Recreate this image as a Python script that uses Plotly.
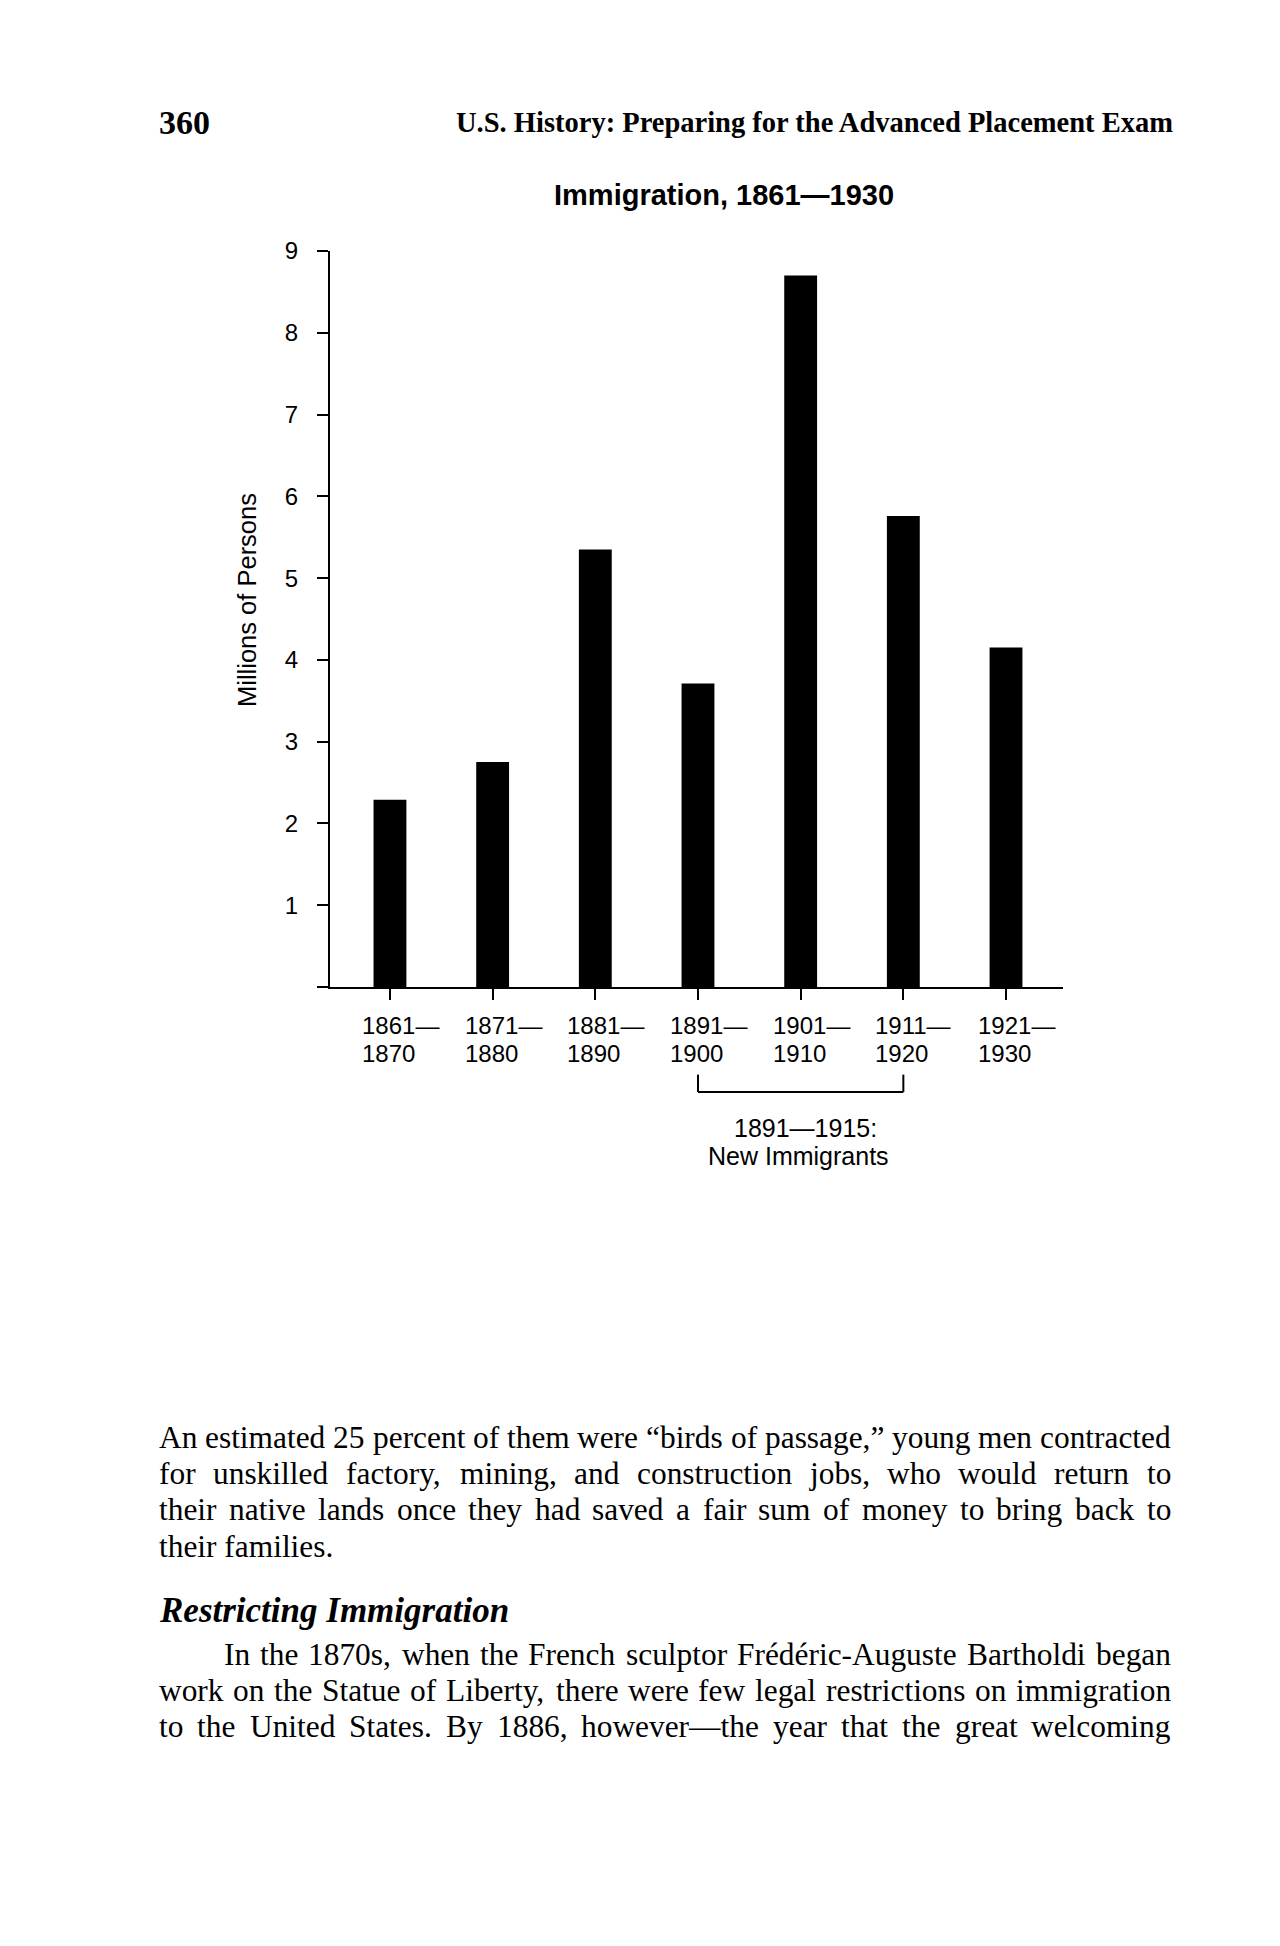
import plotly.graph_objects as go

# ---- data ----
periods = ["1861-1870", "1871-1880", "1881-1890", "1891-1900", "1901-1910", "1911-1920", "1921-1930"]
immigrants_millions = [2.29, 2.75, 5.35, 3.71, 8.70, 5.76, 4.15]
label_line1 = ["1861\u2014", "1871\u2014", "1881\u2014", "1891\u2014", "1901\u2014", "1911\u2014", "1921\u2014"]
label_line2 = ["1870", "1880", "1890", "1900", "1910", "1920", "1930"]
y_tickvals = [0, 1, 2, 3, 4, 5, 6, 7, 8, 9]
y_ticktext = ["", "1", "2", "3", "4", "5", "6", "7", "8", "9"]
bracket_from, bracket_to = "1891-1900", "1911-1920"
bracket_text = ["1891\u20141915:", "New Immigrants"]

page_number = "360"
running_head = "U.S. History: Preparing for the Advanced Placement Exam"
chart_title = "Immigration, 1861\u20141930"
y_title = "Millions of Persons"
para1 = [
    "An estimated 25 percent of them were \u201cbirds of passage,\u201d young men contracted",
    "for unskilled factory, mining, and construction jobs, who would return to",
    "their native lands once they had saved a fair sum of money to bring back to",
    "their families.",
]
heading = "Restricting Immigration"
para2 = [
    "In the 1870s, when the French sculptor Fr\u00e9d\u00e9ric-Auguste Bartholdi began",
    "work on the Statue of Liberty, there were few legal restrictions on immigration",
    "to the United States. By 1886, however\u2014the year that the great welcoming",
]

# ---- layout geometry (pixels) ----
W, H = 1280, 1946
L, R, T, B = 330, 1063, 250.7, 987.3


def pxx(p):
    return (p - L) / (R - L)


def pyy(p):
    return (B - p) / (B - T)


SANS = "Liberation Sans"
SERIF = "Liberation Serif"

# Times metrics (1/1000 em) used only to justify body text lines
_TW = {" ": 250, ",": 250, ".": 250, "-": 333, ":": 278, "\u201c": 444, "\u201d": 444,
       "\u2014": 1000, "\u00e9": 444}
for ch in "0123456789":
    _TW[ch] = 500
_TW.update(dict(zip("ABCDEFGHIJKLMNOPQRSTUVWXYZ",
                    [722, 667, 667, 722, 611, 556, 722, 722, 333, 389, 722, 611, 889,
                     722, 722, 556, 722, 667, 556, 611, 722, 722, 944, 722, 722, 611])))
_TW.update(dict(zip("abcdefghijklmnopqrstuvwxyz",
                    [444, 500, 444, 500, 444, 333, 500, 500, 278, 278, 500, 278, 778,
                     500, 500, 500, 500, 333, 389, 278, 500, 500, 722, 500, 500, 444])))


def tw(s, size):
    return sum(_TW.get(c, 500) for c in s) * size / 1000.0


BODY = 31.4
TEXT_L, TEXT_R = 159, 1171

fig = go.Figure()
fig.add_trace(go.Bar(
    x=periods, y=immigrants_millions, width=0.32,
    marker=dict(color="black", line=dict(width=0)),
    hoverinfo="x+y",
))

ann = []
# x labels (two lines, years centred on tick, dash hanging)
for cat, l1, l2 in zip(periods, label_line1, label_line2):
    ann.append(dict(x=cat, xref="x", y=pyy(1026), yref="paper", text=l1, showarrow=False,
                    xanchor="left", yanchor="middle", xshift=-30,
                    font=dict(family=SANS, size=24, color="black")))
    ann.append(dict(x=cat, xref="x", y=pyy(1054), yref="paper", text=l2, showarrow=False,
                    xanchor="left", yanchor="middle", xshift=-30,
                    font=dict(family=SANS, size=24, color="black")))
# bracket text
ann.append(dict(x=pxx(805), xref="paper", y=pyy(1128), yref="paper", text=bracket_text[0], showarrow=False,
                xanchor="center", yanchor="middle", font=dict(family=SANS, size=25, color="black")))
ann.append(dict(x=pxx(798), xref="paper", y=pyy(1156), yref="paper", text=bracket_text[1], showarrow=False,
                xanchor="center", yanchor="middle", font=dict(family=SANS, size=25, color="black")))
# y title
ann.append(dict(x=pxx(247), xref="paper", y=pyy(600), yref="paper", text=y_title, showarrow=False,
                textangle=-90, xanchor="center", yanchor="middle",
                font=dict(family=SANS, size=25.5, color="black")))
# chart title
ann.append(dict(x=pxx(724), xref="paper", y=pyy(195), yref="paper", text="<b>" + chart_title + "</b>",
                showarrow=False, xanchor="center", yanchor="middle",
                font=dict(family=SANS, size=29, color="black")))
# running head
ann.append(dict(x=pxx(157), xref="paper", y=pyy(122), yref="paper", text="<b>" + page_number + "</b>",
                showarrow=False, xanchor="left", yanchor="middle",
                font=dict(family=SERIF, size=34, color="black")))
ann.append(dict(x=pxx(1175), xref="paper", y=pyy(122), yref="paper", text="<b>" + running_head + "</b>",
                showarrow=False, xanchor="right", yanchor="middle",
                font=dict(family=SERIF, size=28.5, color="black")))


def add_line(line, x_left, y_pix, justify):
    font = dict(family=SERIF, size=BODY, color="black")
    if not justify:
        ann.append(dict(x=pxx(x_left - 2), xref="paper", y=pyy(y_pix), yref="paper", text=line,
                        showarrow=False, xanchor="left", yanchor="middle", font=font))
        return
    words = line.split(" ")
    widths = [tw(w, BODY) for w in words]
    gap = (TEXT_R - x_left - sum(widths)) / (len(words) - 1)
    x = x_left
    for w, wd in zip(words, widths):
        ann.append(dict(x=pxx(x - 2), xref="paper", y=pyy(y_pix), yref="paper", text=w,
                        showarrow=False, xanchor="left", yanchor="middle", font=font))
        x += wd + gap


# body text
for i, line in enumerate(para1):
    add_line(line, TEXT_L, 1437.7 + i * 36.5, justify=(i < len(para1) - 1))
ann.append(dict(x=pxx(157), xref="paper", y=pyy(1611.5), yref="paper", text="<b><i>" + heading + "</i></b>",
                showarrow=False, xanchor="left", yanchor="middle",
                font=dict(family=SERIF, size=35, color="black")))
for i, line in enumerate(para2):
    x0 = 223.5 if i == 0 else TEXT_L
    add_line(line, x0, 1655 + i * 36, justify=True)

shapes = [
    dict(type="line", xref="x", yref="paper", x0=bracket_from, x1=bracket_from, y0=pyy(1075), y1=pyy(1092.3),
         line=dict(color="black", width=2)),
    dict(type="line", xref="x", yref="paper", x0=bracket_to, x1=bracket_to, y0=pyy(1075), y1=pyy(1092.3),
         line=dict(color="black", width=2)),
    dict(type="line", xref="x", yref="paper", x0=bracket_from, x1=bracket_to, y0=pyy(1092.3), y1=pyy(1092.3),
         line=dict(color="black", width=2)),
]

fig.update_layout(
    width=W, height=H,
    margin=dict(l=L, r=W - R, t=T, b=H - B, pad=0),
    paper_bgcolor="white", plot_bgcolor="white",
    showlegend=False,
    annotations=ann, shapes=shapes,
    xaxis=dict(type="category", categoryorder="array", categoryarray=periods,
               range=[-0.584, 6.555], showline=True, linecolor="black", linewidth=2,
               ticks="outside", ticklen=11, tickwidth=2, tickcolor="black",
               showticklabels=False, showgrid=False, zeroline=False),
    yaxis=dict(range=[0, 9], tickvals=y_tickvals, ticktext=y_ticktext,
               showline=True, linecolor="black", linewidth=2,
               ticks="outside", ticklen=11, tickwidth=2, tickcolor="black",
               ticklabelstandoff=14,
               tickfont=dict(family=SANS, size=24, color="black"),
               showgrid=False, zeroline=False),
)

fig.write_html("out.html")
